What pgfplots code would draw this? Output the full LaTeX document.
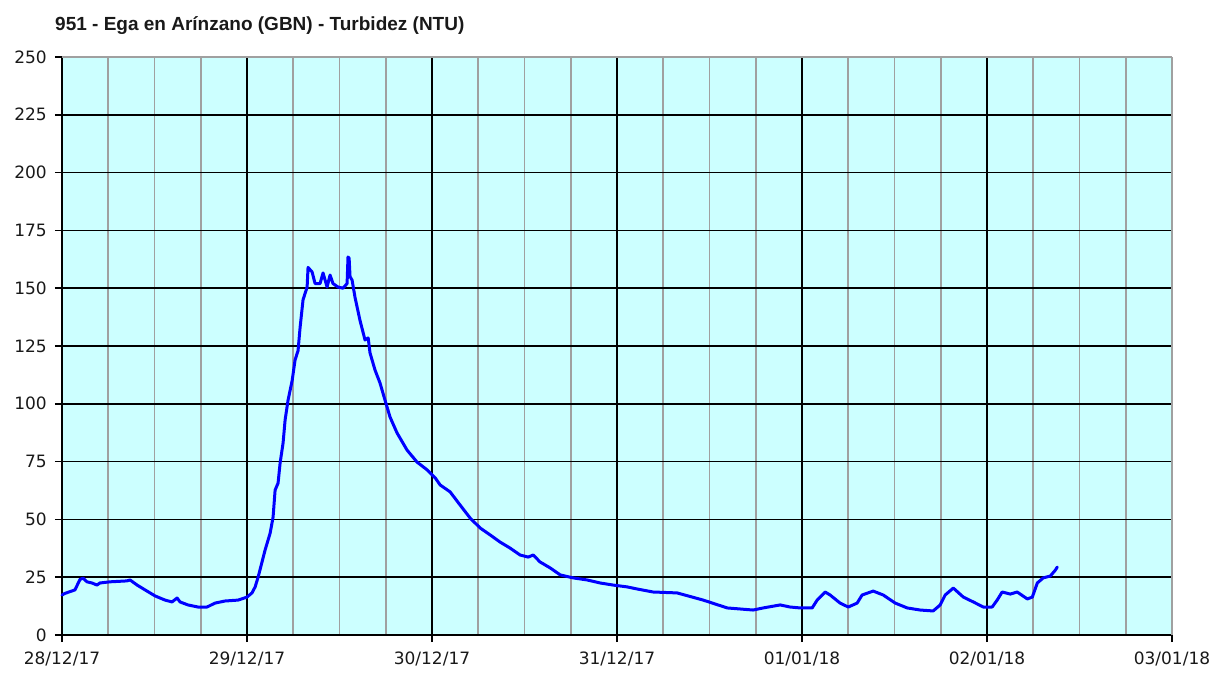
\documentclass[border=0pt]{standalone}
\usepackage{fontspec}
\setmainfont{DejaVu Sans}
\newfontfamily\titlefont{Liberation Sans}
\usepackage{pgfplots}
\pgfplotsset{compat=1.18}
\definecolor{plotbg}{HTML}{CCFFFF}
\definecolor{gridgray}{HTML}{A0A0A0}

\begin{document}
\begin{tikzpicture}[x=1pt,y=1pt]
\path[use as bounding box] (-62,-40) rectangle (1170,635);
\begin{axis}[
  at={(0,0)}, anchor=south west,
  scale only axis, width=1110pt, height=578pt,
  xmin=0, xmax=6, ymin=0, ymax=250,
  axis background/.style={fill=plotbg},
  axis x line*=bottom, axis y line*=left,
  axis line style={black, line width=1.6pt, -},
  xtick={0,1,2,3,4,5},
  xticklabels={28/12/17,29/12/17,30/12/17,31/12/17,01/01/18,02/01/18},
  extra x ticks={6}, extra x tick labels={03/01/18},
  extra x tick style={major grid style={draw=gridgray, line width=1.6pt}},
  minor xtick={0.25,0.5,0.75,1.25,1.5,1.75,2.25,2.5,2.75,3.25,3.5,3.75,4.25,4.5,4.75,5.25,5.5,5.75},
  ytick={0,25,...,225},
  extra y ticks={250},
  extra y tick style={major grid style={draw=gridgray, line width=1.6pt}},
  xmajorgrids, ymajorgrids, xminorgrids,
  major grid style={draw=black, line width=1.6pt},
  minor grid style={draw=gridgray, line width=1.6pt},
  tick align=outside,
  major tick length=7pt, minor tick length=0pt,
  major tick style={black, line width=1.6pt},
  minor tick style={draw=none},
  ticklabel style={font=\fontsize{17}{20}\selectfont, text=black!90},
  /pgf/number format/assume math mode=true,
  yticklabel style={inner sep=0pt, xshift=-8pt},
  xticklabel style={inner sep=0pt, yshift=-10pt},
  clip=false,
]
\addplot[color=blue, line width=3pt, line join=round, line cap=round] coordinates {
(0.000,17.3) (0.016,18.0) (0.070,19.5) (0.097,24.0) (0.114,24.6) (0.135,23.0)
(0.162,22.5) (0.189,21.6) (0.205,22.5) (0.260,23.0) (0.351,23.4) (0.368,23.8)
(0.406,21.6) (0.449,19.5) (0.503,16.9) (0.557,15.1) (0.595,14.3) (0.622,16.0)
(0.638,14.3) (0.681,13.0) (0.735,12.1) (0.784,12.1) (0.827,13.8) (0.881,14.7)
(0.952,15.1) (1.000,16.4) (1.027,18.2) (1.044,20.8) (1.060,25.0) (1.098,36.8)
(1.125,44.0) (1.141,51.0) (1.152,62.7) (1.168,65.7) (1.179,74.4) (1.195,83.0)
(1.206,93.0) (1.222,101.6) (1.244,110.0) (1.260,119.0) (1.276,123.0) (1.287,133.0)
(1.303,145.0) (1.325,150.5) (1.330,159.0) (1.352,157.0) (1.368,152.0) (1.395,152.0)
(1.411,156.6) (1.433,150.5) (1.449,155.7) (1.465,152.0) (1.492,150.5) (1.519,150.0)
(1.541,152.0) (1.546,163.5) (1.552,163.0) (1.557,155.0) (1.568,153.5) (1.584,146.0)
(1.611,136.0) (1.638,127.6) (1.655,128.5) (1.665,122.0) (1.692,114.6) (1.719,109.0)
(1.746,101.6) (1.773,94.3) (1.811,87.4) (1.865,80.0) (1.919,74.8) (1.974,71.4)
(2.017,68.0) (2.044,64.9) (2.098,61.9) (2.152,56.2) (2.206,50.6) (2.260,46.3)
(2.314,43.3) (2.368,40.2) (2.422,37.6) (2.476,34.6) (2.520,33.7) (2.547,34.6)
(2.584,31.6) (2.639,29.0) (2.693,26.0) (2.763,24.7) (2.839,23.8) (2.909,22.5)
(2.979,21.6) (3.055,20.8) (3.109,19.9) (3.195,18.6) (3.325,18.2) (3.466,15.1)
(3.596,11.7) (3.736,10.8) (3.790,11.7) (3.882,13.0) (3.936,12.1) (3.990,11.7)
(4.055,11.7) (4.082,15.1) (4.125,18.6) (4.152,17.3) (4.206,13.8) (4.250,12.1)
(4.298,13.8) (4.325,17.3) (4.385,19.0) (4.439,17.3) (4.504,13.8) (4.569,11.7)
(4.639,10.8) (4.709,10.4) (4.747,13.0) (4.774,17.3) (4.818,20.3) (4.872,16.4)
(4.926,14.3) (4.980,12.1) (5.028,12.1) (5.055,15.1) (5.082,18.6) (5.126,17.7)
(5.163,18.6) (5.218,15.6) (5.245,16.4) (5.272,22.5) (5.304,24.7) (5.342,25.5)
(5.369,28.0) (5.380,29.4)
};
\node[anchor=base west, inner sep=0pt, font=\titlefont\bfseries\fontsize{19}{22}\selectfont, text=black!90]
  at ([xshift=-7pt, yshift=26pt]rel axis cs:0,1) {951 - Ega en Arínzano (GBN) - Turbidez (NTU)};
\end{axis}
\end{tikzpicture}
\end{document}
